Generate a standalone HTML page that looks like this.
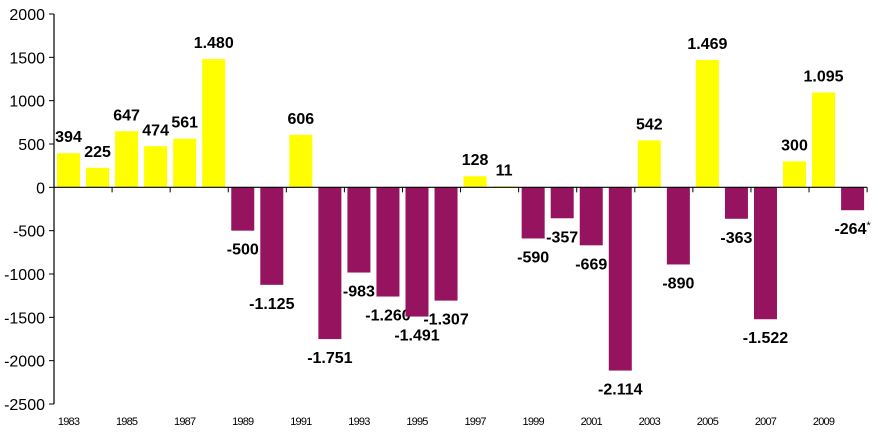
<!DOCTYPE html>
<html><head><meta charset="utf-8"><style>
body{margin:0;background:#fff;}
svg{display:block;font-family:"Liberation Sans",Arial,sans-serif;}
</style></head><body>
<svg id="chart" width="883" height="438"></svg>
<script>
const years=[1983,1984,1985,1986,1987,1988,1989,1990,1991,1992,1993,1994,1995,1996,1997,1998,1999,2000,2001,2002,2003,2004,2005,2006,2007,2008,2009,2010];
const values=[394,225,647,474,561,1480,-500,-1125,606,-1751,-983,-1260,-1491,-1307,128,11,-590,-357,-669,-2114,542,-890,1469,-363,-1522,300,1095,-264];
const yTicks=[2000,1500,1000,500,0,-500,-1000,-1500,-2000,-2500];
const NS="http://www.w3.org/2000/svg";
const svg=document.getElementById('chart');
const x0=54,cw=29.04,yTop=14,yBot=404,vMax=2000,vMin=-2500;
const y=v=>yTop+(vMax-v)*(yBot-yTop)/(vMax-vMin);
const xc=i=>x0+cw*(i+0.5);
function mk(t,a){const e=document.createElementNS(NS,t);for(const k in a)e.setAttribute(k,a[k]);svg.appendChild(e);return e;}
function fmt(v){const s=Math.abs(v).toString();const r=s.length>3?s.slice(0,-3)+'.'+s.slice(-3):s;return (v<0?'-':'')+r;}
values.forEach((v,i)=>{
  const r=mk('rect',{x:xc(i)-11.5,width:23,y:Math.min(y(v),y(0)),height:Math.abs(y(v)-y(0)),fill:v>=0?'#FFFF00':'#95135F'});
  
  
  const t=mk('text',{x:xc(i),y:v>=0?y(v)-11:y(v)+24,'text-anchor':'middle','font-size':16,'font-weight':'bold',fill:'#000'});
  t.textContent=fmt(v);
  if(i===values.length-1){const sp=document.createElementNS(NS,'tspan');sp.setAttribute('font-size','11');sp.setAttribute('font-weight','normal');sp.setAttribute('dy','-5');sp.textContent='*';t.appendChild(sp);}
  
  
});
const ya=mk('line',{x1:x0,x2:x0,y1:yTop,y2:yBot,stroke:'#000','stroke-width':1.2});


yTicks.forEach(v=>{
  mk('line',{x1:x0-5,x2:x0,y1:y(v),y2:y(v),stroke:'#000','stroke-width':1});
  const t=mk('text',{x:45,y:y(v)+6,'text-anchor':'end','font-size':16,fill:'#000'});
  t.textContent=v;
  
  
});
const xa=mk('line',{x1:x0,x2:x0+cw*years.length,y1:y(0),y2:y(0),stroke:'#000','stroke-width':1.2});


for(let k=0;k<=years.length;k+=2){mk('line',{x1:x0+cw*k,x2:x0+cw*k,y1:y(0),y2:y(0)+5,stroke:'#000','stroke-width':1});}
years.forEach((yr,i)=>{
  if(i%2)return;
  const t=mk('text',{x:xc(i),y:425,'text-anchor':'middle','font-size':11,'letter-spacing':'-0.8',fill:'#000'});
  t.textContent=yr;
  
  
});
</script>
</body></html>
